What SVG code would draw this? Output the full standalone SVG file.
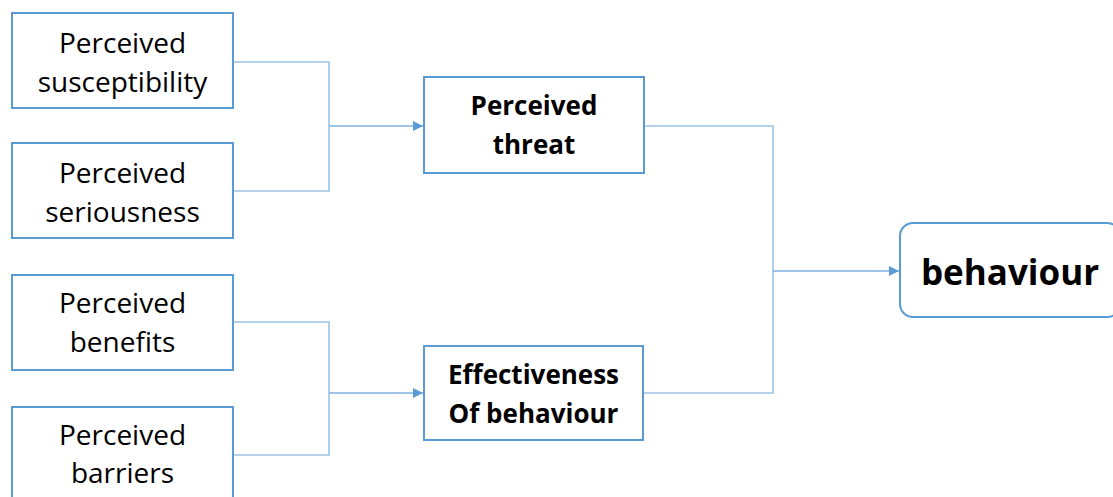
<svg xmlns="http://www.w3.org/2000/svg" width="1113" height="497" viewBox="0 0 1113 497">
  <style>
    .box { fill: #ffffff; stroke: #5b9bd5; stroke-width: 2; }
    .lbl { font-family: "Open Sans", "Liberation Sans", sans-serif; font-size: 28px; fill: #000000; text-anchor: middle; }
    .bold { font-weight: bold; font-size: 26px; }
    .big { font-weight: bold; font-size: 35px; }
    .wire { fill: none; stroke: #9dc3e6; stroke-width: 1.6; }
    .wire-arrow { fill: none; stroke: #7eb0df; stroke-width: 1.6; marker-end: url(#tip); }
  </style>
  <defs>
    <marker id="tip" viewBox="0 0 10 10" refX="10" refY="5" markerWidth="10" markerHeight="10" markerUnits="userSpaceOnUse" orient="auto">
      <path d="M0,0 L10,5 L0,10 Z" fill="#5b9bd5"/>
    </marker>
  </defs>
  <rect width="1113" height="497" fill="#ffffff"/>

  <g id="connectors">
    <!-- susceptibility + seriousness -> threat -->
    <path class="wire" d="M233,62 H329 V191 H233"/>
    <path class="wire-arrow" d="M329,126 H423"/>
    <!-- benefits + barriers -> effectiveness -->
    <path class="wire" d="M233,322 H329 V455 H233"/>
    <path class="wire-arrow" d="M329,393 H423"/>
    <!-- threat + effectiveness -> behaviour -->
    <path class="wire" d="M644,126 H773 V393 H643"/>
    <path class="wire-arrow" d="M773,271 H899"/>
  </g>

  <g id="susceptibility">
    <rect class="box" x="12" y="13" width="221" height="95"/>
    <text class="lbl" x="122.5" y="53">Perceived</text>
    <text class="lbl" x="122.5" y="92">susceptibility</text>
  </g>

  <g id="seriousness">
    <rect class="box" x="12" y="143" width="221" height="95"/>
    <text class="lbl" x="122.5" y="183">Perceived</text>
    <text class="lbl" x="122.5" y="222">seriousness</text>
  </g>

  <g id="benefits">
    <rect class="box" x="12" y="275" width="221" height="95"/>
    <text class="lbl" x="122.5" y="313">Perceived</text>
    <text class="lbl" x="122.5" y="352">benefits</text>
  </g>

  <g id="barriers">
    <rect class="box" x="12" y="407" width="221" height="96"/>
    <text class="lbl" x="122.5" y="445">Perceived</text>
    <text class="lbl" x="122.5" y="483">barriers</text>
  </g>

  <g id="threat">
    <rect class="box" x="424" y="77" width="220" height="96"/>
    <text class="lbl bold" x="534" y="115">Perceived</text>
    <text class="lbl bold" x="534" y="154">threat</text>
  </g>

  <g id="effectiveness">
    <rect class="box" x="424" y="346" width="219" height="94"/>
    <text class="lbl bold" x="533.5" y="384">Effectiveness</text>
    <text class="lbl bold" x="533.5" y="423">Of behaviour</text>
  </g>

  <g id="behaviour">
    <rect class="box" x="900" y="223" width="220" height="94" rx="13" ry="13"/>
    <text class="lbl big" x="1010" y="285">behaviour</text>
  </g>
</svg>
